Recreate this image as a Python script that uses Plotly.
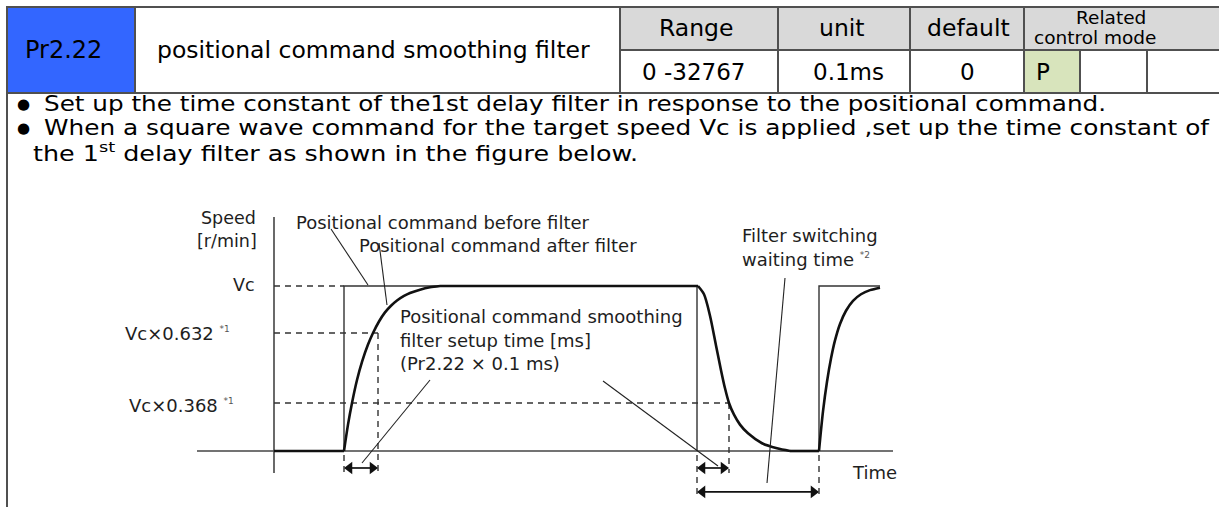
import plotly.graph_objects as go

W, H = 1219, 507

# ---------------- data (diagram, time in drawing units, speed as fraction of Vc) ----------------
axis_t = [-77, 619]            # extent of time axis
axis_v = [-0.133, 1.418]       # extent of speed axis

cmd1_t = [70, 70, 423, 423]    # positional command before filter (first pulse)
cmd1_v = [0, 1, 1, 0]
cmd2_t = [545, 545, 606]       # second command pulse
cmd2_v = [0, 1, 1]

rise1_t = [70, 74, 78, 83, 88, 94, 99, 105, 111, 117, 123, 130, 136, 146, 156, 166]
rise1_v = [0, 0.16, 0.291, 0.43, 0.54, 0.645, 0.715, 0.785, 0.84, 0.88, 0.912, 0.94, 0.958, 0.978, 0.992, 1.0]
fall_t = [424, 430, 436, 442, 447, 451, 455, 460, 466, 474, 488, 503, 516]
fall_v = [1.0, 0.95, 0.82, 0.64, 0.49, 0.38, 0.291, 0.22, 0.16, 0.107, 0.047, 0.016, 0.0]
rise2_t = [545, 549, 553, 557, 561, 566, 572, 579, 587, 596, 606]
rise2_v = [0, 0.24, 0.42, 0.56, 0.67, 0.77, 0.85, 0.91, 0.95, 0.975, 0.99]

level_labels = ["Vc", "Vc×0.632", "Vc×0.368"]
level_v = [1.0, 0.715, 0.291]          # drawn heights of the reference levels
tau_rise = 104                          # time where rising curve reaches 0.632 level
tau_fall = 455                          # time where falling curve reaches 0.368 level

# ---------------- table text ----------------
param_no = "Pr2.22"
param_name = "positional command smoothing filter"
head_labels = ["Range", "unit", "default"]
head_values = ["0 -32767", "0.1ms", "0"]
mode_cells = ["P", "", ""]
bullets = [
    "Set up the time constant of the1st delay filter in response to the positional command.",
    "When a square wave command for the target speed Vc is applied ,set up the time constant of",
    "the 1<sup>st</sup> delay filter as shown in the figure below.",
]

FONT = "DejaVu Sans"


def px(x):
    return x / W


def py(y):
    return 1 - y / H


fig = go.Figure()
shapes = []
ann = []

# ---------------- table ----------------
LC = "#505050"
shapes.append(dict(type="rect", xref="paper", yref="paper", x0=px(7), x1=px(135), y0=py(93), y1=py(7),
                   fillcolor="#3366ff", line=dict(width=0), layer="below"))
shapes.append(dict(type="rect", xref="paper", yref="paper", x0=px(620), x1=px(1219), y0=py(50), y1=py(7),
                   fillcolor="#d9d9d9", line=dict(width=0), layer="below"))
shapes.append(dict(type="rect", xref="paper", yref="paper", x0=px(1024), x1=px(1080), y0=py(93), y1=py(50),
                   fillcolor="#d8e4bc", line=dict(width=0), layer="below"))


def hline(y, x0, x1):
    shapes.append(dict(type="line", xref="paper", yref="paper", x0=px(x0), x1=px(x1), y0=py(y), y1=py(y),
                       line=dict(color=LC, width=2)))


def vline(x, y0, y1):
    shapes.append(dict(type="line", xref="paper", yref="paper", x0=px(x), x1=px(x), y0=py(y0), y1=py(y1),
                       line=dict(color=LC, width=2)))


hline(7, 6, 1219)
hline(93, 6, 1219)
hline(50, 620, 1219)
vline(7, 6, 507)
for xv in [135, 620, 778, 910, 1024]:
    vline(xv, 7, 93)
for xv in [1080, 1147]:
    vline(xv, 50, 93)


def text(x, y, s, size, anchor="left", color="#000"):
    ann.append(dict(xref="paper", yref="paper", x=px(x), y=py(y), text=s, showarrow=False,
                    xanchor=anchor, yanchor="middle", align=anchor if anchor != "center" else "center",
                    font=dict(family=FONT, size=size, color=color)))
    return len(ann) - 1


text(63, 50, param_no, 24, "center")
text(373, 50, param_name, 23.5, "center")
for lab, val, xc, xv in zip(head_labels, head_values, [696, 842, 968], [693, 848, 967]):
    text(xc, 28, lab, 23.5, "center")
    text(xv, 72, val, 23, "center")
text(1111, 18, "Related", 18.5, "center")
text(1095, 38, "control mode", 18.5, "center")
for s, xc in zip(mode_cells, [1043, 1113, 1183]):
    if s:
        text(xc, 72, s, 23, "center")

# ---------------- bullet text ----------------
for yb in [104, 128]:
    text(23, yb, "●", 15, "center")
stretch = []   # (annotation index, target rendered width in px) - the source text is horizontally wide
stretch.append((text(42, 104, bullets[0], 21), 1062))
stretch.append((text(42, 128, bullets[1], 21), 1165))
stretch.append((text(31, 152, bullets[2], 21), 605))

# ---------------- diagram traces ----------------
AX = "#444"
fig.add_trace(go.Scatter(x=axis_t, y=[0, 0], mode="lines", line=dict(color=AX, width=1.6), hoverinfo="skip"))
fig.add_trace(go.Scatter(x=[0, 0], y=axis_v, mode="lines", line=dict(color=AX, width=1.6), hoverinfo="skip"))

DASH = dict(color="#333", width=1.4, dash="6px,5px")
# horizontal level guides
for v, tend in zip(level_v, [cmd1_t[0], tau_rise, tau_fall]):
    fig.add_trace(go.Scatter(x=[0, tend], y=[v, v], mode="lines", line=DASH, hoverinfo="skip"))
# vertical guides
fig.add_trace(go.Scatter(x=[tau_rise, tau_rise], y=[level_v[1], axis_v[0]], mode="lines", line=DASH, hoverinfo="skip"))
fig.add_trace(go.Scatter(x=[tau_fall, tau_fall], y=[level_v[2], axis_v[0]], mode="lines", line=DASH, hoverinfo="skip"))
fig.add_trace(go.Scatter(x=[cmd1_t[0], cmd1_t[0]], y=[-0.025, axis_v[0]], mode="lines", line=DASH, hoverinfo="skip"))
fig.add_trace(go.Scatter(x=[cmd1_t[-1], cmd1_t[-1]], y=[-0.025, -0.28], mode="lines", line=DASH, hoverinfo="skip"))
fig.add_trace(go.Scatter(x=[cmd2_t[0], cmd2_t[0]], y=[-0.025, -0.28], mode="lines", line=DASH, hoverinfo="skip"))

# command (before filter)
CMD = dict(color="#333", width=1.4)
fig.add_trace(go.Scatter(x=cmd1_t, y=cmd1_v, mode="lines", line=CMD, hoverinfo="skip"))
fig.add_trace(go.Scatter(x=cmd2_t, y=cmd2_v, mode="lines", line=CMD, hoverinfo="skip"))

# filtered command (after filter)
FIL = dict(color="#111", width=2.6)
fig.add_trace(go.Scatter(x=[0, rise1_t[0]], y=[0, 0], mode="lines", line=FIL, hoverinfo="skip"))
fig.add_trace(go.Scatter(x=rise1_t, y=rise1_v, mode="lines", line=dict(FIL, shape="spline", smoothing=0.8), hoverinfo="skip"))
fig.add_trace(go.Scatter(x=[rise1_t[-1], fall_t[0]], y=[1, 1], mode="lines", line=FIL, hoverinfo="skip"))
fig.add_trace(go.Scatter(x=fall_t, y=fall_v, mode="lines", line=dict(FIL, shape="spline", smoothing=0.8), hoverinfo="skip"))
fig.add_trace(go.Scatter(x=[fall_t[-1], rise2_t[0]], y=[0, 0], mode="lines", line=FIL, hoverinfo="skip"))
fig.add_trace(go.Scatter(x=rise2_t, y=rise2_v, mode="lines", line=dict(FIL, shape="spline", smoothing=0.8), hoverinfo="skip"))


# double arrows (line + triangle heads)
def darrow(t0, t1, v):
    fig.add_trace(go.Scatter(x=[t0 + 2, t1 - 2], y=[v, v], mode="lines", line=dict(color="#111", width=1.7),
                             hoverinfo="skip"))
    fig.add_trace(go.Scatter(x=[t0 + 5.5, t1 - 5.5], y=[v, v], mode="markers",
                             marker=dict(symbol=["triangle-left", "triangle-right"], size=11, color="#111",
                                         line=dict(width=0)),
                             hoverinfo="skip"))


darrow(cmd1_t[0], tau_rise, -0.103)
darrow(cmd1_t[-1], tau_fall, -0.103)
darrow(cmd1_t[-1], cmd2_t[0], -0.248)


# leader lines
def leader(x0, y0, x1, y1):
    shapes.append(dict(type="line", xref="paper", yref="paper", x0=px(x0), y0=py(y0), x1=px(x1), y1=py(y1),
                       line=dict(color="#222", width=1.1)))


leader(331, 229, 368, 285)
leader(379, 243, 387, 305)
leader(430, 380, 362, 463)
leader(603, 381, 718, 466)
leader(785, 278, 767, 483)

# diagram labels
DC = "#1e1e1e"
SUP = "<sup><span style='font-size:9px;color:#555'>%s</span></sup>"
text(258, 218, "Speed", 17.5, "right", DC)
text(259, 241, "[r/min]", 17.5, "right", DC)
text(244, 285, level_labels[0], 17.5, "center", DC)
text(123, 333, level_labels[1] + " " + SUP % "*1", 18, "left", DC)
text(127, 405, level_labels[2] + " " + SUP % "*1", 18, "left", DC)
text(294, 222, "Positional command before filter", 18, "left", DC)
text(357, 245, "Positional command after filter", 18, "left", DC)
text(740, 236, "Filter switching", 18, "left", DC)
text(740, 259, "waiting time " + SUP % "*2", 18, "left", DC)
text(398, 316, "Positional command smoothing", 18, "left", DC)
text(398, 340, "filter setup time [ms]", 18, "left", DC)
text(398, 363, "(Pr2.22 × 0.1 ms)", 18, "left", DC)
text(850, 472, "Time", 18, "left", DC)

fig.update_layout(
    width=W, height=H, autosize=False,
    margin=dict(l=0, r=0, t=0, b=0),
    paper_bgcolor="white", plot_bgcolor="white",
    showlegend=False,
    xaxis=dict(range=[-274, 945], visible=False, fixedrange=True),
    yaxis=dict(range=[-0.3394, 2.7333], visible=False, fixedrange=True),
    shapes=shapes, annotations=ann,
)

spec_js = ",".join("[%d,%d]" % s for s in stretch)
post = (
    "document.body.style.margin='0';document.body.style.overflow='hidden';"
    "var gd=document.getElementById('{plot_id}');"
    "[" + spec_js + "].forEach(function(s){"
    "var t=gd.querySelector('.annotation[data-index=\"'+s[0]+'\"] text.annotation-text');"
    "if(t){t.setAttribute('textLength',s[1]);t.setAttribute('lengthAdjust','spacingAndGlyphs');}"
    "});"
)

fig.write_html("out.html", config={"displayModeBar": False}, post_script=post)
